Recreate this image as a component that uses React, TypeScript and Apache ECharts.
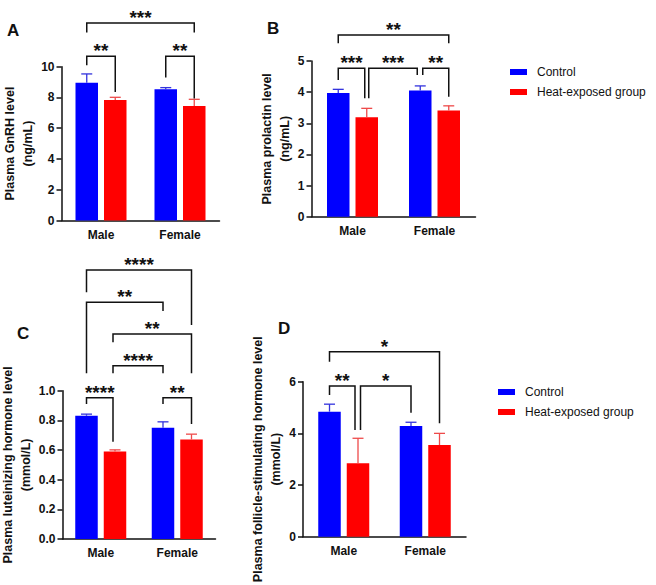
import React, { useEffect, useRef } from 'react';
import * as echarts from 'echarts';

// ---------- data ----------
const categories = ['Male', 'Female'];
const groupNames = ['Control', 'Heat-exposed group'];

// A: plasma GnRH (ng/mL)
const gnrhControl = [8.96, 8.53];
const gnrhControlErr = [0.57, 0.11];
const gnrhHeat = [7.84, 7.45];
const gnrhHeatErr = [0.17, 0.43];
const gnrhTicks = [0, 2, 4, 6, 8, 10];

// B: plasma prolactin (ng/mL)
const prlControl = [3.97, 4.05];
const prlControlErr = [0.12, 0.15];
const prlHeat = [3.19, 3.41];
const prlHeatErr = [0.29, 0.15];
const prlTicks = [0, 1, 2, 3, 4, 5];

// C: plasma luteinizing hormone (mmol/L)
const lhControl = [0.831, 0.75];
const lhControlErr = [0.011, 0.04];
const lhHeat = [0.59, 0.671];
const lhHeatErr = [0.011, 0.036];
const lhTicks = [0, 0.2, 0.4, 0.6, 0.8, 1.0];

// D: plasma follicle-stimulating hormone (mmol/L)
const fshControl = [4.84, 4.29];
const fshControlErr = [0.29, 0.14];
const fshHeat = [2.84, 3.55];
const fshHeatErr = [0.97, 0.45];
const fshTicks = [0, 2, 4, 6];

// significance comparisons: bar index 0=Male Control, 1=Male Heat, 2=Female Control, 3=Female Heat
const gnrhSig: [number, number, string][] = [[0, 3, '***'], [0, 1, '**'], [2, 3, '**']];
const prlSig: [number, number, string][] = [[0, 3, '**'], [0, 1, '***'], [1, 2, '***'], [2, 3, '**']];
const lhSig: [number, number, string][] = [
  [0, 3, '****'], [0, 2, '**'], [1, 3, '**'], [1, 2, '****'], [0, 1, '****'], [2, 3, '**'],
];
const fshSig: [number, number, string][] = [[0, 3, '*'], [0, 1, '**'], [1, 2, '*']];

// ---------- layout / style ----------
// bracket layout: [level, leftDrop, rightDrop] in axis units, [leftNudge, rightNudge] in px
const gnrhBracketLayout = [[12.84, 12.22, 12.22, 0, 0], [10.68, 10.1, 8.36, 0, 0], [10.68, 9.3, 7.94, 0, 0]];
const prlBracketLayout = [[5.835, 5.568, 5.568, 0, 0], [4.766, 4.39, 3.8, 0, -2], [4.766, 3.8, 4.55, 2, -3], [4.766, 4.55, 3.85, 2.5, 0]];
const lhBracketLayout = [
  [1.814, 1.664, 1.443, 0, 0], [1.596, 1.117, 1.537, 0, 0], [1.382, 1.326, 1.117, -2, 0],
  [1.169, 1.117, 1.117, -2, 0], [0.953, 0.91, 0.656, 0, -2], [0.953, 0.91, 0.775, 0, 0],
];
const fshBracketLayout = [[7.162, 6.775, 4.39, 0, 0], [5.834, 5.486, 4.131, 0, -3], [5.834, 4.131, 4.8, 2.5, 0]];

const BLUE = '#0000ff';
const RED = '#ff0000';
const BLUE_ERR = '#3333dd';
const RED_ERR = '#ee4a4a';
const INK = '#111111';
const FONT = '"Liberation Sans", Arial, sans-serif';
const BAR_W = 22.5;
const BAR_GAP = 6;
const BAR_OFFSET = (BAR_W + BAR_GAP) / 2;

const panels = [
  {
    letter: 'A', letterPos: [7, 31], grid: { left: 61.5, top: 66.7, width: 158, height: 153.8 },
    ticks: gnrhTicks, control: gnrhControl, controlErr: gnrhControlErr, heat: gnrhHeat, heatErr: gnrhHeatErr,
    sig: gnrhSig, layout: gnrhBracketLayout, title: 'Plasma GnRH level\n(ng/mL)', nameGap: 20, digits: 0,
  },
  {
    letter: 'B', letterPos: [267, 29.2], grid: { left: 311.5, top: 61, width: 164, height: 155.7 },
    ticks: prlTicks, control: prlControl, controlErr: prlControlErr, heat: prlHeat, heatErr: prlHeatErr,
    sig: prlSig, layout: prlBracketLayout, title: 'Plasma prolactin level\n(ng/mL)', nameGap: 14.5, digits: 0,
  },
  {
    letter: 'C', letterPos: [17, 333.7], grid: { left: 62.5, top: 390.7, width: 153, height: 148.3 },
    ticks: lhTicks, control: lhControl, controlErr: lhControlErr, heat: lhHeat, heatErr: lhHeatErr,
    sig: lhSig, layout: lhBracketLayout, title: 'Plasma luteinizing hormone level\n(mmol/L)', nameGap: 19.5, digits: 1,
  },
  {
    letter: 'D', letterPos: [278, 329], grid: { left: 303, top: 381.7, width: 163, height: 155 },
    ticks: fshTicks, control: fshControl, controlErr: fshControlErr, heat: fshHeat, heatErr: fshHeatErr,
    sig: fshSig, layout: fshBracketLayout, title: 'Plasma follicle-stimulating hormone level\n(mmol/L)', nameGap: 12, digits: 0,
  },
];

const barCenterX = (api: any, k: number) => {
  const cat = Math.floor(k / 2);
  const grp = k % 2;
  return api.coord([cat, 0])[0] + (grp === 0 ? -1 : 1) * BAR_OFFSET;
};

const errorRender = (_params: any, api: any) => {
  const cat = api.value(0);
  const v = api.value(1);
  const e = api.value(2);
  const g = api.value(3);
  const base = api.coord([cat, v]);
  const top = api.coord([cat, v + e]);
  const x = base[0] + (g === 0 ? -1 : 1) * BAR_OFFSET;
  const color = g === 0 ? BLUE_ERR : RED_ERR;
  return {
    type: 'group',
    children: [
      { type: 'line', shape: { x1: x, y1: base[1], x2: x, y2: top[1] }, style: { stroke: color, lineWidth: 1.3 } },
      { type: 'line', shape: { x1: x - 5.5, y1: top[1], x2: x + 5.5, y2: top[1] }, style: { stroke: color, lineWidth: 1.3 } },
    ],
  };
};

const makeBracketRender = (sig: [number, number, string][], layout: number[][]) => (_params: any, api: any) => {
  const i = api.value(2);
  const [a, b, label] = sig[i];
  const [level, dropA, dropB, nudgeA, nudgeB] = layout[i];
  const xa = barCenterX(api, a) + nudgeA;
  const xb = barCenterX(api, b) + nudgeB;
  const yl = api.coord([0, level])[1];
  const ya = api.coord([0, dropA])[1];
  const yb = api.coord([0, dropB])[1];
  return {
    type: 'group',
    children: [
      {
        type: 'polyline',
        shape: { points: [[xa, ya], [xa, yl], [xb, yl], [xb, yb]] },
        style: { stroke: INK, lineWidth: 1.5, fill: 'none' },
      },
      {
        type: 'text',
        x: (xa + xb) / 2,
        y: yl - 5.6,
        style: { text: label, font: `bold 19px ${FONT}`, fill: INK, align: 'center', verticalAlign: 'middle' },
      },
    ],
  };
};

const buildOption = () => {
  const grids: any[] = [];
  const xAxes: any[] = [];
  const yAxes: any[] = [];
  const series: any[] = [];
  const graphics: any[] = [];

  panels.forEach((p, i) => {
    grids.push({ ...p.grid, containLabel: false, outerBoundsMode: 'none' });
    xAxes.push({
      type: 'category',
      gridIndex: i,
      data: categories,
      axisLine: { lineStyle: { color: INK, width: 1.5 } },
      axisTick: { alignWithLabel: true, length: 5, lineStyle: { color: INK, width: 1.5 } },
      axisLabel: { interval: 0, margin: 8, color: INK, fontWeight: 'bold', fontSize: 12, fontFamily: FONT },
      splitLine: { show: false },
    });
    const t = p.ticks;
    yAxes.push({
      type: 'value',
      gridIndex: i,
      min: t[0],
      max: t[t.length - 1],
      interval: t[1] - t[0],
      name: p.title,
      nameLocation: 'middle',
      nameRotate: 90,
      nameGap: p.nameGap,
      nameTextStyle: { color: INK, fontWeight: 'bold', fontSize: 12.5, fontFamily: FONT, lineHeight: 18 },
      axisLine: { show: true, lineStyle: { color: INK, width: 1.5 } },
      axisTick: { show: true, length: 5, lineStyle: { color: INK, width: 1.5 } },
      axisLabel: {
        margin: 7, color: INK, fontWeight: 'bold', fontSize: 12, fontFamily: FONT,
        formatter: (v: number) => v.toFixed(p.digits),
      },
      splitLine: { show: false },
    });
    series.push(
      {
        type: 'bar', name: groupNames[0], xAxisIndex: i, yAxisIndex: i, data: p.control,
        barWidth: BAR_W, barGap: `${(BAR_GAP / BAR_W) * 100}%`, itemStyle: { color: BLUE },
      },
      {
        type: 'bar', name: groupNames[1], xAxisIndex: i, yAxisIndex: i, data: p.heat,
        barWidth: BAR_W, barGap: `${(BAR_GAP / BAR_W) * 100}%`, itemStyle: { color: RED },
      },
      {
        type: 'custom', xAxisIndex: i, yAxisIndex: i, clip: false, silent: true, z: 3,
        encode: { x: 0, y: 1 },
        data: [
          [0, p.control[0], p.controlErr[0], 0],
          [0, p.heat[0], p.heatErr[0], 1],
          [1, p.control[1], p.controlErr[1], 0],
          [1, p.heat[1], p.heatErr[1], 1],
        ],
        renderItem: errorRender,
      },
      {
        type: 'custom', xAxisIndex: i, yAxisIndex: i, clip: false, silent: true, z: 4,
        encode: { x: 0, y: 1 },
        data: p.sig.map((_s, k) => [0, 0, k]),
        renderItem: makeBracketRender(p.sig, p.layout),
      },
    );
    graphics.push({
      type: 'text', left: p.letterPos[0], top: p.letterPos[1] - 9,
      style: { text: p.letter, font: `bold 17px ${FONT}`, fill: INK },
    });
  });

  const legendBase = {
    orient: 'vertical',
    icon: 'rect',
    itemWidth: 17,
    itemHeight: 6,
    itemGap: 6,
    padding: 0,
    selectedMode: false,
    data: groupNames,
    textStyle: { color: INK, fontSize: 12, fontFamily: FONT, lineHeight: 14, padding: [0, 0, 0, 5] },
  };

  return {
    animation: false,
    backgroundColor: '#ffffff',
    grid: grids,
    xAxis: xAxes,
    yAxis: yAxes,
    series,
    legend: [
      { ...legendBase, left: 510, top: 65 },
      { ...legendBase, left: 498, top: 385 },
    ],
    graphic: graphics,
  };
};

export default function App() {
  const ref = useRef<HTMLDivElement>(null);
  useEffect(() => {
    if (!ref.current) return;
    const chart = echarts.init(ref.current, null, { renderer: 'svg' });
    chart.setOption(buildOption() as any);
    return () => chart.dispose();
  }, []);
  return <div ref={ref} style={{ position: 'absolute', left: 0, top: 0, width: 656, height: 585, background: '#fff' }} />;
}
